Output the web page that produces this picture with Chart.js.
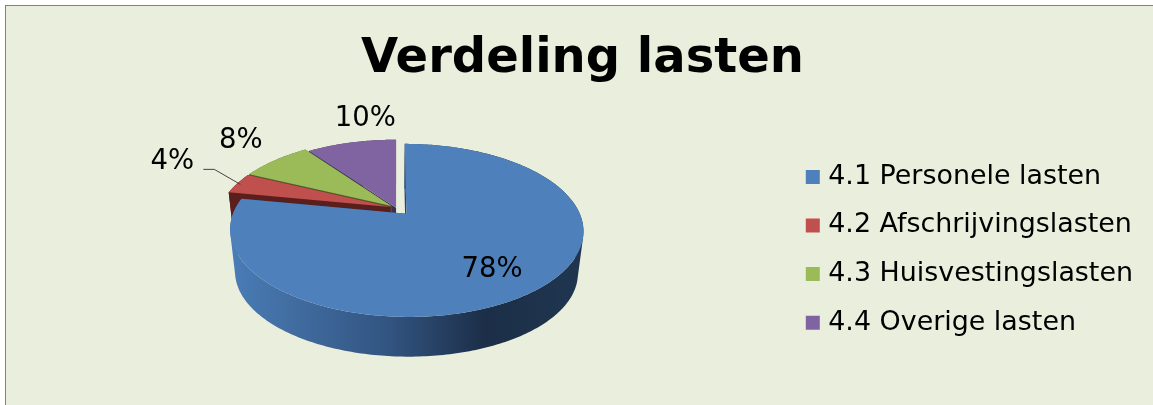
<!DOCTYPE html>
<html>
<head>
<meta charset="utf-8">
<title>Verdeling lasten</title>
<style>
  html, body { margin: 0; padding: 0; background: #ffffff; }
  #wrap { width: 1153px; height: 405px; }
  canvas { display: block; }
</style>
<script src="https://cdn.jsdelivr.net/npm/chart.js@4/dist/chart.umd.js"></script>
</head>
<body>
<div id="wrap"><canvas id="pie" width="1153" height="405"></canvas></div>
<script>
const chartTitle = 'Verdeling lasten';
const categories = ['4.1 Personele lasten', '4.2 Afschrijvingslasten', '4.3 Huisvestingslasten', '4.4 Overige lasten'];
const shares = [78, 4, 8, 10];
const sliceColors = ['#4e80bc', '#c0504d', '#9bbb59', '#8064a2'];
const wallColors = ['#2a4568', '#5a1f1d', '#4d5d2c', '#3c2f52'];
const explode = [16, 6, 6, 0];

const FONT = '"DejaVu Sans", Verdana, sans-serif';

// Perspective of the tilted disc: near edge looks larger than the far edge.
const view = {
  originShiftX: -9.5,   // disc centre relative to the centre of the chart area
  originShiftY: -42,
  tilt: 0.19,
  squash: 0.474,
  floorScale: 0.97,
  floorDrop: 43
};

// Offsets of the value labels from the rim midpoint of each slice.
const labelShift = [[-46, -19], [-65, -22], [-34, -19], [14, -24]];

function project(ox, oy, R, px, py, floor) {
  const w = 1 - view.tilt * py;
  const f = floor ? view.floorScale : 1;
  return {
    x: ox + f * R * px / w,
    y: oy + f * R * view.squash * py / w + (floor ? view.floorDrop : 0)
  };
}

function sliceGeometry(arc, ox, oy) {
  const R = arc.outerRadius;
  const mid = (arc.startAngle + arc.endAngle) / 2;
  const e = (arc.options.offset || 0) / R;
  const cx = Math.cos(mid) * e;
  const cy = Math.sin(mid) * e;
  const at = (a, floor, r = 1) => project(ox, oy, R, cx + r * Math.cos(a), cy + r * Math.sin(a), floor);
  const rim = (floor) => {
    const pts = [];
    const n = Math.max(8, Math.ceil((arc.endAngle - arc.startAngle) * 60));
    for (let i = 0; i <= n; i++) {
      pts.push(at(arc.startAngle + (arc.endAngle - arc.startAngle) * i / n, floor));
    }
    return pts;
  };
  return { mid, at, rim, apex: at(0, false, 0), apexLow: at(0, true, 0) };
}

function fillPoly(ctx, pts, style) {
  ctx.beginPath();
  pts.forEach((p, i) => (i ? ctx.lineTo(p.x, p.y) : ctx.moveTo(p.x, p.y)));
  ctx.closePath();
  ctx.fillStyle = style;
  ctx.fill();
}

function signedArea(q) {
  let a = 0;
  q.forEach((p, i) => {
    const n = q[(i + 1) % q.length];
    a += p.x * n.y - n.x * p.y;
  });
  return a;
}

// Sweeps the rim from the top plane to the floor. All facets share one path
// with the same winding, so their union fills without seams.
function fillWall(ctx, top, low, style) {
  ctx.beginPath();
  for (let i = 0; i < top.length - 1; i++) {
    let q = [top[i], top[i + 1], low[i + 1], low[i]];
    if (signedArea(q) < 0) q = q.reverse();
    q.forEach((p, j) => (j ? ctx.lineTo(p.x, p.y) : ctx.moveTo(p.x, p.y)));
    ctx.closePath();
  }
  ctx.fillStyle = style;
  ctx.fill('nonzero');
}

const panelPlugin = {
  id: 'panel',
  beforeDraw(chart) {
    const ctx = chart.ctx;
    ctx.save();
    ctx.fillStyle = '#eaeedd';
    ctx.fillRect(5, 5, chart.width - 5, chart.height - 5);
    ctx.fillStyle = '#808080';
    ctx.fillRect(5, 5, chart.width - 5, 1);
    ctx.fillRect(5, 5, 1, chart.height - 5);
    ctx.restore();
  }
};

const tiltedPiePlugin = {
  id: 'tiltedPie',
  beforeDatasetsDraw(chart) {
    const ctx = chart.ctx;
    const arcs = chart.getDatasetMeta(0).data;
    const ox = arcs[0].x + view.originShiftX;
    const oy = arcs[0].y + view.originShiftY;
    ctx.save();

    // Painted far to near: overige, huisvesting, afschrijving, personeel.
    [3, 2, 1, 0].forEach((i) => {
      const g = sliceGeometry(arcs[i], ox, oy);
      const top = g.rim(false);
      const low = g.rim(true);

      let wall = wallColors[i];
      if (i === 0) {
        wall = ctx.createLinearGradient(231, 0, 584, 0);
        wall.addColorStop(0, '#4a7cb6');
        wall.addColorStop(0.45, '#325480');
        wall.addColorStop(0.72, '#1c2e48');
        wall.addColorStop(1, '#203650');
      }
      fillPoly(ctx, [g.apex, top[0], low[0], g.apexLow], wallColors[i]);
      fillPoly(ctx, [g.apex, top[top.length - 1], low[low.length - 1], g.apexLow], wallColors[i]);
      fillWall(ctx, top, low, wall);
      fillPoly(ctx, [g.apex].concat(top), sliceColors[i]);
    });

    // Leader line of the smallest slice.
    const red = sliceGeometry(arcs[1], ox, oy);
    const tip = red.at(red.mid, false);
    ctx.strokeStyle = '#444444';
    ctx.lineWidth = 1;
    ctx.beginPath();
    ctx.moveTo(tip.x + 3, tip.y + 1);
    ctx.lineTo(tip.x - 23, tip.y - 14);
    ctx.lineTo(tip.x - 34, tip.y - 14);
    ctx.stroke();

    // Percentages.
    const total = shares.reduce((a, b) => a + b, 0);
    ctx.font = '27.5px ' + FONT;
    ctx.fillStyle = '#000000';
    ctx.textAlign = 'center';
    ctx.textBaseline = 'middle';
    arcs.forEach((arc, i) => {
      const g = sliceGeometry(arc, ox, oy);
      const p = g.at(g.mid, false);
      const text = Math.round(shares[i] / total * 100) + '%';
      ctx.fillText(text, p.x + labelShift[i][0], p.y + labelShift[i][1]);
    });
    ctx.restore();
    return false; // the flat default arcs are replaced by the drawing above
  }
};

new Chart(document.getElementById('pie'), {
  type: 'pie',
  data: {
    labels: categories,
    datasets: [{
      data: shares,
      backgroundColor: sliceColors,
      borderColor: sliceColors,
      borderWidth: 0,
      offset: explode,
      radius: 171
    }]
  },
  options: {
    responsive: false,
    animation: false,
    events: [],
    layout: { padding: { left: 22, top: 31, right: 10, bottom: 0 } },
    plugins: {
      tooltip: { enabled: false },
      title: {
        display: true,
        text: chartTitle,
        color: '#000000',
        font: { family: FONT, size: 48, weight: 'bold' },
        padding: { top: 0, bottom: 6 }
      },
      legend: {
        position: 'right',
        fullSize: false,
        labels: {
          color: '#000000',
          font: { family: FONT, size: 26.9 },
          boxWidth: 4,
          boxHeight: 4,
          padding: 21.7,
          generateLabels(chart) {
            const base = Chart.overrides.pie.plugins.legend.labels.generateLabels(chart);
            // A thick same-coloured stroke makes the square key sit close to its text.
            return base.map((item) => Object.assign(item, { lineWidth: 10, strokeStyle: item.fillStyle }));
          }
        }
      }
    }
  },
  plugins: [panelPlugin, tiltedPiePlugin]
});
</script>
</body>
</html>
